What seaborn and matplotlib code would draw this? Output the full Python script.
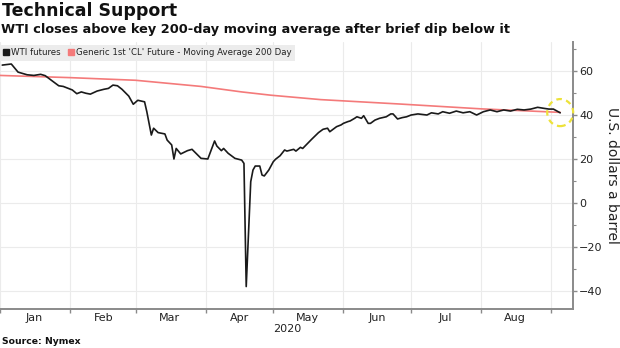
import numpy as np
import pandas as pd
import matplotlib
matplotlib.use("Agg")
import matplotlib.pyplot as plt
import matplotlib.dates as mdates
import matplotlib.ticker as mticker
import matplotlib.transforms as mtransforms
from matplotlib.patches import Ellipse
from matplotlib.lines import Line2D
import seaborn as sns

# ---------------- data ----------------
wti_dates = [
    "2020-01-02", "2020-01-06", "2020-01-09", "2020-01-13", "2020-01-16", "2020-01-19",
    "2020-01-21", "2020-01-24", "2020-01-27", "2020-01-29", "2020-02-02", "2020-02-04",
    "2020-02-06", "2020-02-08", "2020-02-10", "2020-02-13", "2020-02-16", "2020-02-18",
    "2020-02-20", "2020-02-22", "2020-02-24", "2020-02-27", "2020-02-29", "2020-03-02",
    "2020-03-05", "2020-03-06", "2020-03-08", "2020-03-09", "2020-03-11", "2020-03-14",
    "2020-03-15", "2020-03-17", "2020-03-18", "2020-03-19", "2020-03-21", "2020-03-24",
    "2020-03-26", "2020-03-30", "2020-04-02", "2020-04-05", "2020-04-06", "2020-04-08",
    "2020-04-09", "2020-04-11", "2020-04-14", "2020-04-17", "2020-04-18", "2020-04-19",
    "2020-04-21", "2020-04-22", "2020-04-23", "2020-04-25", "2020-04-26", "2020-04-27",
    "2020-04-29", "2020-05-01", "2020-05-02", "2020-05-04", "2020-05-06", "2020-05-07",
    "2020-05-10", "2020-05-11", "2020-05-13", "2020-05-14", "2020-05-18", "2020-05-21",
    "2020-05-23", "2020-05-25", "2020-05-26", "2020-05-29", "2020-05-31", "2020-06-01",
    "2020-06-03", "2020-06-04", "2020-06-06", "2020-06-07", "2020-06-09", "2020-06-10",
    "2020-06-12", "2020-06-13", "2020-06-15", "2020-06-17", "2020-06-20", "2020-06-22",
    "2020-06-23", "2020-06-25", "2020-06-27", "2020-06-29", "2020-07-01", "2020-07-04",
    "2020-07-08", "2020-07-10", "2020-07-13", "2020-07-15", "2020-07-18", "2020-07-21",
    "2020-07-24", "2020-07-27", "2020-07-30", "2020-08-02", "2020-08-05", "2020-08-08",
    "2020-08-11", "2020-08-14", "2020-08-17", "2020-08-20", "2020-08-23", "2020-08-26",
    "2020-08-29", "2020-08-31", "2020-09-02", "2020-09-05",
]
wti_values = [
    62.7, 63.2, 59.5, 58.3, 58.0, 58.5,
    57.9, 55.6, 53.3, 53.0, 51.4, 49.7,
    50.5, 49.9, 49.5, 50.9, 51.7, 52.1,
    53.6, 53.3, 51.7, 48.6, 44.9, 46.7,
    46.0, 41.5, 30.9, 34.0, 32.0, 31.4,
    28.6, 26.4, 20.0, 24.8, 22.3, 23.8,
    24.4, 20.3, 20.0, 28.2, 25.9, 23.8,
    24.8, 22.6, 20.3, 19.5, 18.0, -38.0,
    9.7, 15.0, 16.8, 16.8, 12.7, 12.3,
    15.0, 18.8, 19.9, 21.5, 24.1, 23.6,
    24.4, 23.6, 25.3, 24.8, 29.0, 32.0,
    33.5, 34.0, 32.4, 34.7, 35.5, 36.2,
    37.0, 37.3, 38.5, 39.2, 38.5, 39.7,
    36.2, 36.2, 37.7, 38.5, 39.2, 40.5,
    40.5, 38.2, 38.8, 39.2, 40.0, 40.5,
    40.0, 41.0, 40.5, 41.5, 40.8, 41.8,
    41.0, 41.5, 40.0, 41.5, 42.3, 41.5,
    42.3, 41.8, 42.6, 42.3, 42.7, 43.5,
    43.0, 42.7, 42.7, 41.0,
]

ma_dates = ["2020-01-01", "2020-02-01", "2020-03-01", "2020-03-30", "2020-04-17",
            "2020-04-30", "2020-05-22", "2020-06-26", "2020-08-01", "2020-09-05"]
ma_values = [58.0, 57.0, 55.8, 53.0, 50.5, 49.0, 47.0, 45.0, 42.8, 41.2]

series_names = ["WTI futures", "Generic 1st 'CL' Future - Moving Average 200 Day"]
y_ticks = [-40, -20, 0, 20, 40, 60]
year_label = "2020"

# ---------------- style ----------------
sns.set_style("white")
plt.rcParams["font.family"] = ["DejaVu Sans"]

BLACK = "#1a1a1a"
RED = "#f47a7a"
SPINE = "#8a8a8a"
GRID = "#ebebeb"

fig = plt.figure(figsize=(6.2, 3.48), dpi=100)
ax = fig.add_axes([0.0, 1 - 309 / 348, 573 / 620, (309 - 42) / 348])

df_wti = pd.DataFrame({"date": pd.to_datetime(wti_dates), "value": wti_values})
df_ma = pd.DataFrame({"date": pd.to_datetime(ma_dates), "value": ma_values})

sns.lineplot(data=df_ma, x="date", y="value", ax=ax, color=RED, lw=1.2, zorder=3)
sns.lineplot(data=df_wti, x="date", y="value", ax=ax, color=BLACK, lw=1.2, zorder=4)

ax.set_xlim(pd.Timestamp("2020-01-01"), pd.Timestamp("2020-09-10 16:00"))
ax.set_ylim(-48.2, 73.2)

# spines
for s in ["top", "left"]:
    ax.spines[s].set_visible(False)
for s in ["right", "bottom"]:
    ax.spines[s].set_visible(True)
    ax.spines[s].set_color(SPINE)
    ax.spines[s].set_linewidth(1.4)

# y axis on right
ax.yaxis.tick_right()
ax.yaxis.set_label_position("right")
ax.set_yticks(y_ticks)
ax.yaxis.set_minor_locator(mticker.MultipleLocator(10))
ax.tick_params(axis="y", which="major", length=3, width=1, color=SPINE,
               labelsize=8, labelcolor="#222222", pad=1.5, right=True, left=False)
ax.tick_params(axis="y", which="minor", length=2, width=0.8, color=SPINE, right=True, left=False)
ax.set_ylabel("U.S. dollars a barrel", rotation=270, fontsize=10, color="#222222", labelpad=12)

# x axis: ticks at month starts, labels centered in the month
ax.xaxis.set_major_locator(mdates.MonthLocator())
ax.xaxis.set_major_formatter(mticker.NullFormatter())
ax.xaxis.set_minor_locator(mdates.MonthLocator(bymonthday=16))
ax.xaxis.set_minor_formatter(mdates.DateFormatter("%b"))
ax.tick_params(axis="x", which="major", length=3, width=1, color=SPINE, bottom=True)
ax.tick_params(axis="x", which="minor", length=0, labelsize=8, labelcolor="#222222", pad=3)
ax.set_xlabel("")

ax.grid(True, which="major", axis="both", color=GRID, lw=0.8)
ax.set_axisbelow(True)

trans = mtransforms.blended_transform_factory(ax.transData, ax.transAxes)
ax.text(pd.Timestamp("2020-05-07"), -0.075, year_label, transform=trans,
        ha="center", va="center", fontsize=8, color="#222222")

# legend
handles = [Line2D([], [], marker="s", ls="none", color=BLACK, ms=4.3),
           Line2D([], [], marker="s", ls="none", color=RED, ms=4.3)]
leg = ax.legend(handles, series_names, loc="upper left", bbox_to_anchor=(0.0, 0.989),
                ncol=2, frameon=True, fancybox=False, facecolor="#ececec", edgecolor="none",
                framealpha=1, fontsize=6.2, handlelength=0.6, handletextpad=0.3,
                columnspacing=0.9, borderpad=0.4, borderaxespad=0)
for t in leg.get_texts():
    t.set_color("#222222")

# yellow dashed highlight circle at the end of the series
circ = Ellipse((mdates.date2num(pd.Timestamp("2020-09-05")), 41.1), width=11.5, height=12.3,
               fill=False, ec="#ede23a", lw=1.6, ls=(0, (2.5, 2)), zorder=5, clip_on=False)
ax.add_patch(circ)

# titles and source
fig.text(0.003, 1 - 2.5 / 348, "Technical Support", fontsize=12.5, weight="bold",
         va="top", ha="left", color="#111111")
fig.text(0.002, 1 - 23 / 348, "WTI closes above key 200-day moving average after brief dip below it",
         fontsize=9.3, weight="bold", va="top", ha="left", color="#111111")
fig.text(0.003, 1 - 342 / 348, "Source: Nymex", fontsize=6.7, weight="bold",
         va="center", ha="left", color="#111111")

fig.savefig("out.png", dpi=100)
